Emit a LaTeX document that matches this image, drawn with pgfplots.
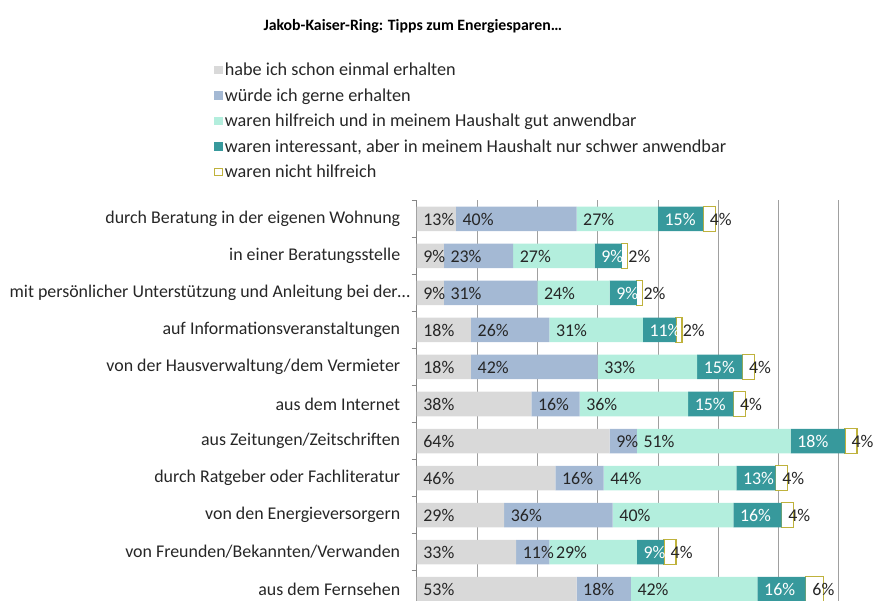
\documentclass[border=0pt]{standalone}
\usepackage{pgfplots}
\usepackage{pgfplotstable}
\pgfplotsset{compat=1.18}
\usepackage{fontspec}
\setmainfont{Carlito}
\definecolor{cgray}{HTML}{D9D9D9}
\definecolor{cblue}{HTML}{A4B9D4}
\definecolor{cmint}{HTML}{B3EEDD}
\definecolor{cteal}{HTML}{37999C}
\definecolor{colive}{HTML}{BFB23C}
\definecolor{ctext}{HTML}{262626}
\definecolor{cgrid}{HTML}{A0A0A0}
\definecolor{caxis}{HTML}{868686}

\pgfplotstableread{
y a b c d e
10 13 40 27 15 4
9 9 23 27 9 2
8 9 31 24 9 2
7 18 26 31 11 2
6 18 42 33 15 4
5 38 16 36 15 4
4 64 9 51 18 4
3 46 16 44 13 4
2 29 36 40 16 4
1 33 11 29 9 4
0 53 18 42 16 6
}\data

\pgfplotsset{
  geom/.style={at={(416.7pt,-200.5pt)}, anchor=north west,
    scale only axis, width=443.3pt, height=407pt,
    xmin=0, xmax=147, ymin=-0.5, ymax=10.5, clip=false},
  legf/.style={legend image code/.code={\fill[#1] (0pt,-4.3pt) rectangle (8.7pt,4.3pt);}},
  lab/.style={draw=none, mark=none, point meta=explicit,
    /pgf/number format/assume math mode=true,
    nodes near coords={\pgfmathprintnumber{\pgfplotspointmeta}\%},
    every node near coord/.append style={anchor=west, inner sep=0pt, xshift=6.5pt,
      font=\fontsize{17.9}{21}\selectfont, text=#1}},
}

\begin{document}
\begin{tikzpicture}
\useasboundingbox (0pt,0pt) rectangle (878pt,-601pt);
\begin{axis}[geom,
  xbar stacked, bar width=24.5pt,
  axis lines*=left,
  x axis line style={draw=none},
  y axis line style={caxis, line width=0.8pt},
  xtick={20,40,...,140}, xticklabels={},
  xmajorgrids, grid style={cgrid, line width=0.8pt},
  ytick={0,...,10},
  yticklabels={{aus dem Fernsehen}, {von Freunden/Bekannten/Verwanden}, {von den Energieversorgern}, {durch Ratgeber oder Fachliteratur}, {aus Zeitungen/Zeitschriften}, {aus dem Internet}, {von der Hausverwaltung/dem Vermieter}, {auf Informationsveranstaltungen}, {mit persönlicher Unterstützung und Anleitung bei der\ldots\kern-10pt}, {in einer Beratungsstelle}, {durch Beratung in der eigenen Wohnung}},
  minor ytick={-0.5,0.5,1.5,2.5,3.5,4.5,5.5,6.5,7.5,8.5,9.5,10.5},
  major tick length=0pt, minor tick length=5pt, tick align=outside,
  minor y tick style={caxis, line width=0.8pt},
  yticklabel style={font=\fontsize{17.9}{21}\selectfont, text=ctext, xshift=-13pt},
  title={Jakob-Kaiser-Ring: Tipps zum Energiesparen\ldots},
  title style={at={(axis description cs:-0.0088,1.414)}, anchor=center, font=\bfseries\fontsize{15.8}{18}\selectfont, text=black},
  legend style={at={(axis description cs:-0.4573,1.343)}, anchor=north west, draw=none, fill=none,
    font=\fontsize{18.2}{21}\selectfont, text=ctext, inner sep=0pt, row sep=7.3pt},
  legend cell align=left,
]
\addplot[legf=cgray, fill=cgray, draw=none] table[x=a, y=y]{\data};
\addplot[legf=cblue, fill=cblue, draw=none] table[x=b, y=y]{\data};
\addplot[legf=cmint, fill=cmint, draw=none] table[x=c, y=y]{\data};
\addplot[legf=cteal, fill=cteal, draw=none] table[x=d, y=y]{\data};
\addplot[fill=white, draw=colive, line width=1.2pt,
  legend image code/.code={\draw[colive, fill=white, line width=1.2pt] (0.6pt,-3.7pt) rectangle (8.1pt,3.7pt);}] table[x=e, y=y]{\data};
\legend{habe ich schon einmal erhalten, würde ich gerne erhalten, waren hilfreich und in meinem Haushalt gut anwendbar, {waren interessant, aber in meinem Haushalt nur schwer anwendbar}, waren nicht hilfreich}
\end{axis}
\begin{axis}[geom, hide axis]
\addplot[lab=ctext] table[x expr=0, y=y, meta=a]{\data};
\addplot[lab=ctext] table[x=a, y=y, meta=b]{\data};
\addplot[lab=ctext] table[x expr=\thisrow{a}+\thisrow{b}, y=y, meta=c]{\data};
\addplot[lab=white] table[x expr=\thisrow{a}+\thisrow{b}+\thisrow{c}, y=y, meta=d]{\data};
\addplot[lab=ctext] table[x expr=\thisrow{a}+\thisrow{b}+\thisrow{c}+\thisrow{d}, y=y, meta=e]{\data};
\end{axis}
\end{tikzpicture}
\end{document}
